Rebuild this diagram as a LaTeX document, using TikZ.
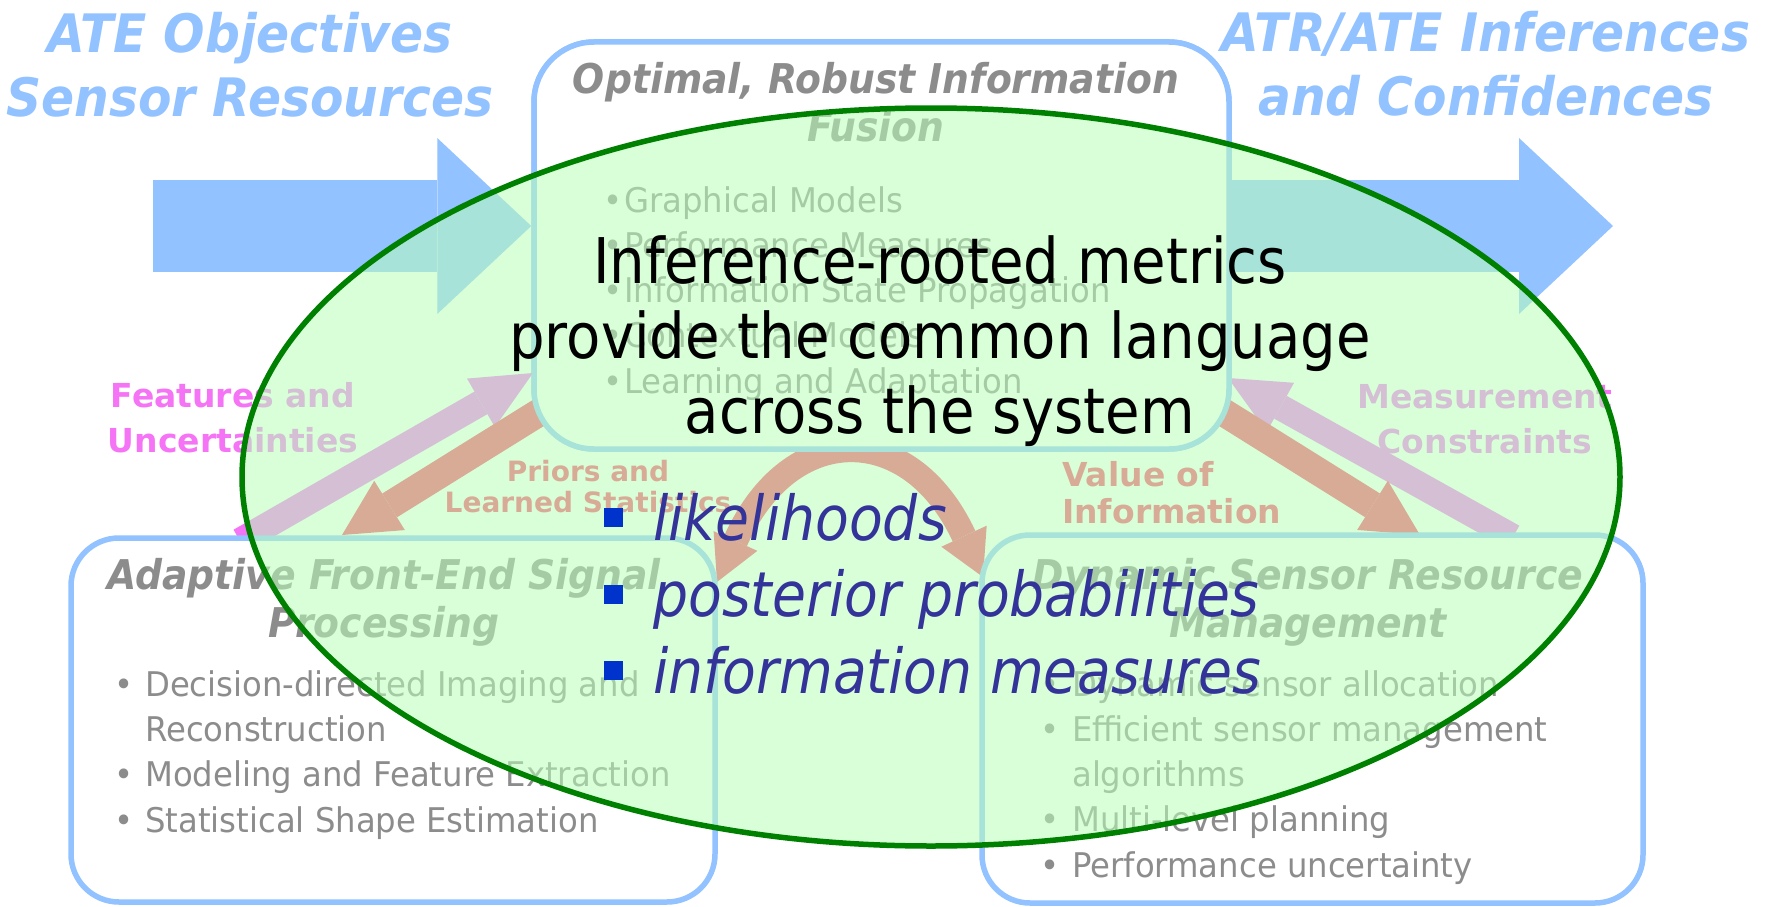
\documentclass[tikz,border=0pt]{standalone}
\usepackage{fontspec}
\setmainfont{DejaVu Sans}
\newfontfamily\metricfont{DejaVu Sans}[FakeStretch=0.89]
\newfontfamily\itemfont{DejaVu Sans Oblique}[FakeStretch=0.89]
\newfontfamily\boxfont{DejaVu Sans}[FakeStretch=0.95]
\newfontfamily\headfont{DejaVu Sans Bold Oblique}[FakeStretch=0.92]
\newfontfamily\labelfont{DejaVu Sans Bold}
\usetikzlibrary{positioning,arrows.meta,shapes.geometric}

\definecolor{skyblue}{RGB}{146,194,255}
\definecolor{boxgray}{RGB}{140,140,140}
\definecolor{featpink}{RGB}{245,115,245}
\definecolor{priorsalmon}{RGB}{255,70,110}
\definecolor{ringgreen}{RGB}{0,128,0}
\definecolor{ringfill}{RGB}{185,255,185}
\definecolor{itemblue}{RGB}{51,51,153}
\definecolor{squareblue}{RGB}{0,51,204}

\newcommand{\dotitem}[1][31pt]{\makebox[#1][l]{•}}
\newcommand{\squareitem}{\makebox[49pt][l]{\textcolor{squareblue}{\rule[13pt]{19pt}{19pt}}}}

\begin{document}
\begin{tikzpicture}[x=1pt,y=-1pt,
    bigarrow/.style={skyblue,line width=92pt,-{Triangle[length=94pt,width=176pt,line width=0pt]}},
    featarrow/.style={featpink,line width=26pt,-{Triangle[length=60pt,width=56pt,line width=0pt]}},
    priorarrow/.style={priorsalmon,line width=28pt,-{Triangle[length=56pt,width=58pt,line width=0pt]}},
    swaparrow/.style={priorsalmon,line width=25pt,{Triangle[length=45pt,width=48pt,line width=0pt]}-{Triangle[length=45pt,width=50pt,line width=0pt]}},
    bluebox/.style={draw=skyblue,line width=5.5pt,fill=white,inner sep=0pt},
    boxhead/.style={boxgray,align=center,inner sep=0pt,font=\headfont\fontsize{41pt}{48pt}\selectfont},
    boxlist/.style={boxgray,align=left,inner sep=0pt,font=\boxfont\fontsize{34pt}{45.2pt}\selectfont},
    banner/.style={skyblue,align=center,inner sep=0pt,font=\headfont\fontsize{53pt}{64pt}\selectfont},
    featlabel/.style={featpink,align=center,inner sep=0pt,font=\labelfont\fontsize{33pt}{45pt}\selectfont},
    priorlabel/.style={priorsalmon,align=center,inner sep=0pt,font=\labelfont\fontsize{28pt}{31pt}\selectfont},
    ring/.style={ellipse,draw=ringgreen,line width=5.5pt,fill=ringfill,fill opacity=0.55,inner sep=0pt},
    metricline/.style={black,align=center,inner sep=0pt,font=\metricfont\fontsize{63pt}{75pt}\selectfont},
    itemline/.style={itemblue,align=left,inner sep=0pt,font=\itemfont\fontsize{62pt}{76.5pt}\selectfont}]
    \useasboundingbox (0,0) rectangle (1781,907);

    \coordinate (objtail) at (153,226);
    \coordinate (inftip) at (1613,226);
    \coordinate (featfoot) at (240,541);
    \coordinate (feattip) at (533,373);
    \coordinate (priorroot) at (556,402);
    \coordinate (priortip) at (342,535);
    \coordinate (measfoot) at (1513,537);
    \coordinate (meastip) at (1228,378);
    \coordinate (valueroot) at (1207,402);
    \coordinate (valuetip) at (1420,535);
    \coordinate (curvetail) at (717,582);
    \coordinate (curvetip) at (983,577);

    \node[bluebox,rounded corners=60pt,minimum width=695pt,minimum height=407pt] (fusion) at (881.5,245.5) {};

    \draw[bigarrow] (objtail) -- (objtail -| fusion.west);
    \draw[bigarrow] (objtail -| fusion.east) -- (inftip);
    \draw[featarrow] (featfoot) -- (feattip);
    \draw[priorarrow] (priorroot) -- (priortip);
    \draw[featarrow] (measfoot) -- (meastip);
    \draw[priorarrow] (valueroot) -- (valuetip);
    \draw[swaparrow] (curvetail) .. controls (790,420) and (910,420) .. (curvetip);

    \node[bluebox,rounded corners=60pt,minimum width=695pt,minimum height=407pt] (fusionbox) at (fusion) {};
    \node[bluebox,rounded corners=48pt,minimum width=644pt,minimum height=364pt] (adaptive) at (393,720) {};
    \node[bluebox,rounded corners=48pt,minimum width=661pt,minimum height=368pt] (dynamic) at (1312.5,719) {};

    \node[boxhead,anchor=base] (fusionhead) at (876,141) {Optimal, Robust Information\\Fusion};
    \node[boxlist,anchor=base west] (fusionlist) at (603,393) {\dotitem[21pt]Graphical Models\\\dotitem[21pt]Performance Measures\\\dotitem[21pt]Information State Propagation\\\dotitem[21pt]Contextual Models\\\dotitem[21pt]Learning and Adaptation};
    \node[boxhead,anchor=base] (adaptivehead) at (384,637) {Adaptive Front-End Signal\\Processing};
    \node[boxlist,anchor=base west] (adaptivelist) at (114,832) {\dotitem Decision-directed Imaging and\\\hspace*{31pt}Reconstruction\\\dotitem Modeling and Feature Extraction\\\dotitem Statistical Shape Estimation};
    \node[boxhead,anchor=base] (dynamichead) at (1308,637) {Dynamic Sensor Resource\\Management};
    \node[boxlist,anchor=base west] (dynamiclist) at (1040,877) {\dotitem[32pt]Dynamic sensor allocation\\\dotitem[32pt]Efficient sensor management\\\hspace*{32pt}algorithms\\\dotitem[32pt]Multi-level planning\\\dotitem[32pt]Performance uncertainty};

    \node[banner,anchor=base] (objectives) at (250,117) {ATE Objectives\\Sensor Resources};
    \node[banner,anchor=base] (inferences) at (1486,115) {ATR/ATE Inferences\\and Confidences};

    \node[featlabel,anchor=base] (features) at (233,452) {Features and\\Uncertainties};
    \node[featlabel,anchor=base] (constraints) at (1485,453) {Measurement\\Constraints};
    \node[priorlabel,anchor=base] (priors) at (588,512) {Priors and\\Learned Statistics};
    \node[priorlabel,anchor=base west,align=left,font=\labelfont\fontsize{33pt}{37pt}\selectfont] (voi) at (1062,523) {Value of\\Information};

    \node[ring,minimum width=1378pt,minimum height=738pt] (hub) at (931,477) {};

    \node[metricline,anchor=base] (metrics) at (940,433) {Inference-rooted metrics\\provide the common language\\across the system};
    \node[itemline,anchor=base west] (measures) at (604,693) {\squareitem likelihoods\\\squareitem posterior probabilities\\\squareitem information measures};
\end{tikzpicture}
\end{document}
